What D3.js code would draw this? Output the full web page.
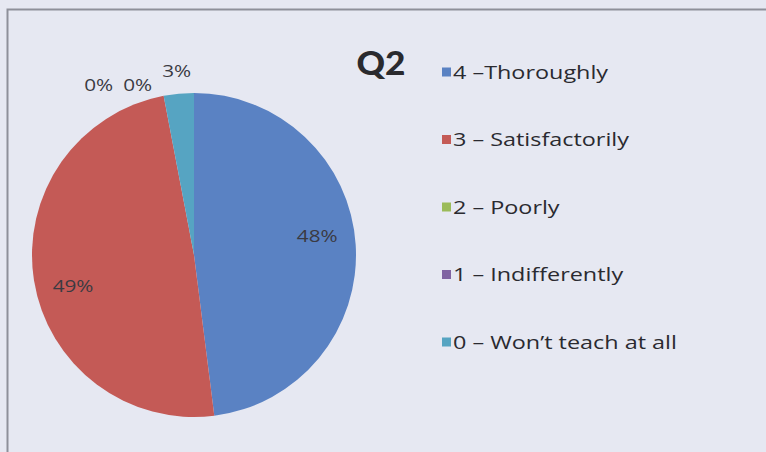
<!DOCTYPE html>
<html>
<head>
<meta charset="utf-8">
<script src="https://cdn.jsdelivr.net/npm/d3@7"></script>
<style>
  html, body { margin: 0; padding: 0; background: #e6e8f2; }
  svg { display: block; }
</style>
</head>
<body>
<svg id="chart" width="766" height="452"></svg>
<script>
// ---- data ----
const title = "Q2";
const categories = ["4 \u2013Thoroughly", "3 \u2013 Satisfactorily", "2 \u2013 Poorly", "1 \u2013 Indifferently", "0 \u2013 Won\u2019t teach at all"];
const values = [48, 49, 0, 0, 3];
const colors = ["#5a82c3", "#c45a56", "#9bbb59", "#8064a2", "#56a4c2"];

// ---- layout ----
const W = 766, H = 452;
const cx = 194, cy = 255, R = 162;
const stretch = 1.3; // the source picture's type is horizontally wide
const svg = d3.select("#chart");

svg.append("rect").attr("width", W).attr("height", H).attr("fill", "#e6e8f2");
// chart frame (top and left edges visible)
svg.append("path")
  .attr("d", `M7.5,${H} V9.5 H${W}`)
  .attr("fill", "none").attr("stroke", "#8e909a").attr("stroke-width", 2);

const total = d3.sum(values);
const data = categories.map((c, i) => ({ cat: c, value: values[i], color: colors[i], i }));

const pie = d3.pie().value(d => d.value).sort(null);
const arcs = pie(data);
const arc = d3.arc().innerRadius(0).outerRadius(R);

const g = svg.append("g").attr("transform", `translate(${cx},${cy})`);
g.selectAll("path.slice").data(arcs).join("path")
  .attr("class", "slice")
  .attr("d", arc)
  .attr("fill", d => d.data.color);

// ---- labels ----
const fmt = v => Math.round(v / total * 100) + "%";
const rIn = R * 0.77, rOut = R * 1.14, angShift = -0.09;

const labels = arcs.map(a => {
  const big = (a.endAngle - a.startAngle) > 0.5;
  const mid = (a.startAngle + a.endAngle) / 2 + (big ? angShift : 0);
  const r = big ? rIn : rOut;
  return { a, x: r * Math.sin(mid), y: -r * Math.cos(mid), big };
});
// Small outside labels: avoid overlap by shifting leftwards / down
const small = labels.filter(l => !l.big).sort((p, q) => q.a.index - p.a.index);
let prevX = null;
small.forEach((l, k) => {
  if (prevX !== null && l.x > prevX - 39) l.x = prevX - 39;
  if (k > 0) l.y = Math.max(l.y, small[0].y + 14);
  prevX = l.x;
});

g.selectAll("g.lbl").data(labels).join("g")
  .attr("class", "lbl")
  .attr("transform", d => `translate(${d.x},${d.y}) scale(1.22,1)`)
  .append("text")
  .attr("text-anchor", "middle")
  .attr("dominant-baseline", "central")
  .attr("font-family", "'Open Sans', sans-serif")
  .attr("font-size", 17)
  .attr("fill", "#3a3a42")
  .text(d => fmt(d.a.data.value));

// ---- title ----
svg.append("g")
  .attr("transform", "translate(381,75) scale(1.1,1)")
  .append("text")
  .attr("text-anchor", "middle")
  .attr("font-family", "Lato, 'Open Sans', sans-serif")
  .attr("font-weight", "900")
  .attr("font-size", 32)
  .attr("fill", "#2a2a2e")
  .text(title);

// ---- legend ----
const ly = d3.scalePoint().domain(categories).range([72, 342]);
const leg = svg.append("g").selectAll("g").data(data).join("g")
  .attr("transform", d => `translate(442,${ly(d.cat)})`);
leg.append("rect")
  .attr("x", 0).attr("y", -4.5).attr("width", 9).attr("height", 9)
  .attr("fill", d => d.color);
leg.append("g")
  .attr("transform", `translate(11,0) scale(${stretch},1)`)
  .append("text")
  .attr("dominant-baseline", "central")
  .attr("font-family", "'Open Sans', sans-serif")
  .attr("font-size", 18)
  .attr("fill", "#2a2a30")
  .text(d => d.cat);
</script>
</body>
</html>
